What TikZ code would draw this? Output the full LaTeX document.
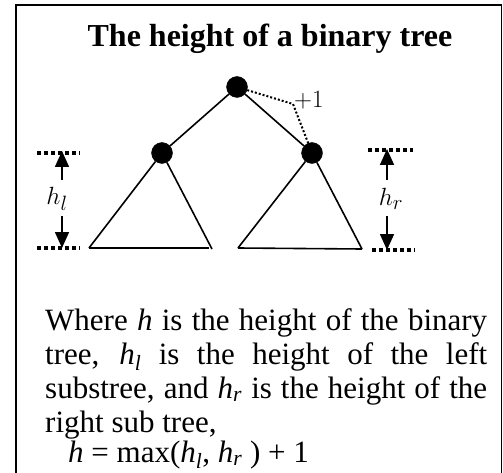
\documentclass[tikz,border=0pt]{standalone}
\usepackage{fontspec}
\setmainfont{Liberation Serif}
\usetikzlibrary{arrows.meta}
\tikzset{
  dot/.style={circle,fill=black,draw=black,minimum size=21pt,inner sep=0pt},
  edge/.style={line width=1.6pt},
  dimdots/.style={line width=3.2pt,dash pattern=on 4pt off 3pt},
  plusdots/.style={line width=2pt,dash pattern=on 2pt off 2pt},
  dimarrow/.style={line width=1.6pt,-{Triangle[length=16pt,width=14pt]}},
  bodytext/.style={anchor=base west,inner sep=0pt,font=\fontsize{31}{36}\selectfont},
  mathlabel/.style={inner sep=0pt,font=\fontsize{29}{32}\selectfont},
}
\begin{document}
\begin{tikzpicture}[x=1pt,y=-1pt]
\useasboundingbox (0,0) rectangle (503,473);
\draw[line width=1.8pt] (16,5) rectangle (501.5,490);
\node[anchor=base,inner sep=0pt,font=\fontsize{32}{36}\selectfont\bfseries] (title) at (270,47) {The height of a binary tree};
% tree
\node[dot] (root) at (237,87) {};
\node[dot] (L) at (162,153) {};
\node[dot] (R) at (312,153) {};
\draw[edge] (root) -- (L);
\draw[edge] (root) -- (R);
\coordinate (Lbl) at (89,248);
\coordinate (Lbr) at (212,249);
\coordinate (Rbl) at (238,248);
\coordinate (Rbr) at (362,249);
\draw[edge] (Lbl) -- (L);
\draw[edge] (L) -- (Lbr);
\draw[edge] (Lbl) -- (209,248);
\draw[edge] (Rbl) -- (R);
\draw[edge] (R) -- (Rbr);
\draw[edge] (Rbl) -- (Rbr);
% +1
\coordinate (pk) at (293,104);
\draw[plusdots] (root) -- (pk) -- (R);
\node[anchor=west,inner sep=0pt,font=\fontsize{33}{36}\selectfont] (plus) at (294,100) {$+1$};
% left dimension
\coordinate (lt1) at (37,153); \coordinate (lt2) at (80,153);
\coordinate (lb1) at (37,248); \coordinate (lb2) at (80,248);
\draw[dimdots] (lt1) -- (lt2);
\draw[dimdots] (lb1) -- (lb2);
\node[mathlabel] (hl) at (57,199) {$h_l$};
\coordinate (ltop) at (62,151);
\coordinate (lbot) at (62,248);
\draw[dimarrow] (62,180) -- (ltop);
\draw[dimarrow] (62,216) -- (lbot);
% right dimension
\coordinate (rt1) at (368,150); \coordinate (rt2) at (413,150);
\coordinate (rb1) at (372,250); \coordinate (rb2) at (415,250);
\draw[dimdots] (rt1) -- (rt2);
\draw[dimdots] (rb1) -- (rb2);
\node[mathlabel] (hr) at (391,199) {$h_r$};
\coordinate (rtop) at (387,149);
\coordinate (rbot) at (387,250);
\draw[dimarrow] (387,180) -- (rtop);
\draw[dimarrow] (387,216) -- (rbot);
% body text
\node[bodytext] (t1) at (45,330) {\makebox[442pt][s]{Where \textit{h} is the height of the binary}};
\node[bodytext] (t2) at (45,364) {\makebox[442pt][s]{tree, \textit{h}\textsubscript{\textit{l}} is the height of the left}};
\node[bodytext] (t3) at (45,398) {\makebox[442pt][s]{substree, and \textit{h}\textsubscript{\textit{r}} is the height of the}};
\node[bodytext] (t4) at (45,432) {right sub tree,};
\node[bodytext] (t5) at (68,462) {\textit{h} = max(\textit{h}\textsubscript{\textit{l}}, \textit{h}\textsubscript{\textit{r}} ) + 1};
\end{tikzpicture}
\end{document}
